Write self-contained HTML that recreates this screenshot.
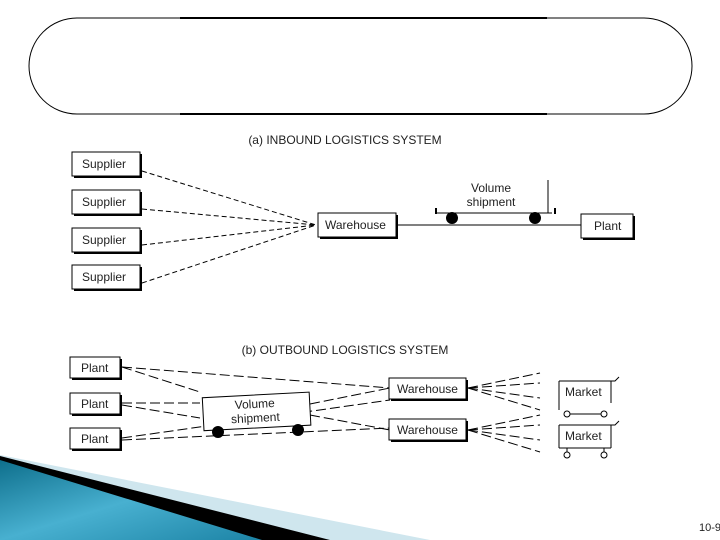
<!DOCTYPE html>
<html><head><style>body{margin:0;background:#fff}svg{display:block}text{font-family:"Liberation Sans",sans-serif;fill:#222}</style></head><body>
<svg width="720" height="540" viewBox="0 0 720 540">
<defs><linearGradient id="g" x1="0" y1="0" x2="1" y2="1"><stop offset="0" stop-color="#0e6f8c"/><stop offset="0.5" stop-color="#48b0d0"/><stop offset="1" stop-color="#1d84a6"/></linearGradient></defs>
<rect x="29" y="18" width="663" height="96" rx="48" fill="none" stroke="#000" stroke-width="1"/>
<line x1="180" y1="18" x2="547" y2="18" stroke="#000" stroke-width="2"/>
<line x1="180" y1="114" x2="547" y2="114" stroke="#000" stroke-width="2"/>
<text x="345" y="144" font-size="12" text-anchor="middle">(a) INBOUND LOGISTICS SYSTEM</text>
<g stroke="#000" stroke-dasharray="5,3" fill="none">
<line x1="142" y1="171" x2="316" y2="225"/><line x1="142" y1="209" x2="316" y2="225"/><line x1="142" y1="245" x2="316" y2="225"/><line x1="142" y1="283" x2="316" y2="225"/>
</g>
<g font-size="12">
<rect x="74" y="154" width="68" height="24" fill="#000"/><rect x="72" y="152" width="68" height="24" fill="#fff" stroke="#000"/><text x="82" y="168">Supplier</text>
<rect x="74" y="192" width="68" height="24" fill="#000"/><rect x="72" y="190" width="68" height="24" fill="#fff" stroke="#000"/><text x="82" y="206">Supplier</text>
<rect x="74" y="230" width="68" height="24" fill="#000"/><rect x="72" y="228" width="68" height="24" fill="#fff" stroke="#000"/><text x="82" y="244">Supplier</text>
<rect x="74" y="267" width="68" height="24" fill="#000"/><rect x="72" y="265" width="68" height="24" fill="#fff" stroke="#000"/><text x="82" y="281">Supplier</text>
<line x1="396" y1="225" x2="581" y2="225" stroke="#000"/>
<rect x="320" y="215" width="78" height="24" fill="#000"/><rect x="318" y="213" width="78" height="24" fill="#fff" stroke="#000"/><text x="325" y="229">Warehouse</text>
<rect x="583" y="216" width="52" height="24" fill="#000"/><rect x="581" y="214" width="52" height="24" fill="#fff" stroke="#000"/><text x="594" y="230">Plant</text>
<line x1="436" y1="213" x2="552" y2="213" stroke="#000"/>
<line x1="548" y1="180" x2="548" y2="213" stroke="#000"/>
<line x1="436" y1="208" x2="436" y2="214" stroke="#000" stroke-width="2"/><line x1="555" y1="208" x2="555" y2="214" stroke="#000" stroke-width="2"/>
<circle cx="452" cy="218" r="6"/><circle cx="535" cy="218" r="6"/>
<text x="491" y="192" text-anchor="middle">Volume</text><text x="491" y="206" text-anchor="middle">shipment</text>
</g>
<text x="345" y="354" font-size="12" text-anchor="middle">(b) OUTBOUND LOGISTICS SYSTEM</text>
<g stroke="#000" stroke-dasharray="10,4" fill="none">
<line x1="122" y1="367" x2="390" y2="388"/><line x1="122" y1="367" x2="200" y2="392"/>
<line x1="122" y1="403" x2="200" y2="403"/><line x1="122" y1="405" x2="200" y2="418"/>
<line x1="122" y1="438" x2="390" y2="400"/><line x1="122" y1="440" x2="390" y2="428"/>
<line x1="310" y1="404" x2="390" y2="388"/><line x1="310" y1="415" x2="390" y2="430"/>
<line x1="468" y1="388" x2="540" y2="373"/><line x1="468" y1="388" x2="540" y2="383"/><line x1="468" y1="388" x2="540" y2="398"/><line x1="468" y1="388" x2="540" y2="410"/>
<line x1="468" y1="430" x2="540" y2="415"/><line x1="468" y1="430" x2="540" y2="425"/><line x1="468" y1="430" x2="540" y2="440"/><line x1="468" y1="430" x2="540" y2="452"/>
</g>
<g font-size="12">
<rect x="72" y="359" width="50" height="21" fill="#000"/><rect x="70" y="357" width="50" height="21" fill="#fff" stroke="#000"/><text x="81" y="372">Plant</text>
<rect x="72" y="395" width="50" height="21" fill="#000"/><rect x="70" y="393" width="50" height="21" fill="#fff" stroke="#000"/><text x="81" y="408">Plant</text>
<rect x="72" y="430" width="50" height="21" fill="#000"/><rect x="70" y="428" width="50" height="21" fill="#fff" stroke="#000"/><text x="81" y="443">Plant</text>
<g transform="rotate(-3 255 410)"><rect x="203" y="395" width="107" height="33" fill="#fff" stroke="#000"/><text x="255" y="408" text-anchor="middle">Volume</text><text x="255" y="422" text-anchor="middle">shipment</text></g>
<circle cx="218" cy="432" r="6"/><circle cx="298" cy="430" r="6"/>
<rect x="391" y="380" width="77" height="21" fill="#000"/><rect x="389" y="378" width="77" height="21" fill="#fff" stroke="#000"/><text x="397" y="393">Warehouse</text>
<rect x="391" y="421" width="77" height="21" fill="#000"/><rect x="389" y="419" width="77" height="21" fill="#fff" stroke="#000"/><text x="397" y="434">Warehouse</text>
<path d="M559 410 V381 M559 381 H615 L619 377 M611 381 V403" stroke="#000" fill="none"/><text x="565" y="396">Market</text>
<line x1="568" y1="414" x2="603" y2="414" stroke="#000"/><circle cx="567" cy="414" r="3" fill="#fff" stroke="#000"/><circle cx="604" cy="414" r="3" fill="#fff" stroke="#000"/>
<path d="M559 448 V425 M559 425 H615 L619 421 M611 425 V448 M559 448 H611" stroke="#000" fill="none"/><text x="565" y="440">Market</text>
<line x1="567" y1="448" x2="567" y2="452" stroke="#000"/><line x1="604" y1="448" x2="604" y2="452" stroke="#000"/>
<circle cx="567" cy="455" r="3" fill="#fff" stroke="#000"/><circle cx="604" cy="455" r="3" fill="#fff" stroke="#000"/>
</g>
<polygon points="0,455 430,540 0,540" fill="#cfe6ee"/>
<polygon points="0,456 330,540 0,540" fill="#000"/>
<polygon points="0,460 262,540 0,540" fill="url(#g)"/>
<text x="699" y="531" font-size="11" fill="#000">10-9</text>
</svg>
</body></html>
